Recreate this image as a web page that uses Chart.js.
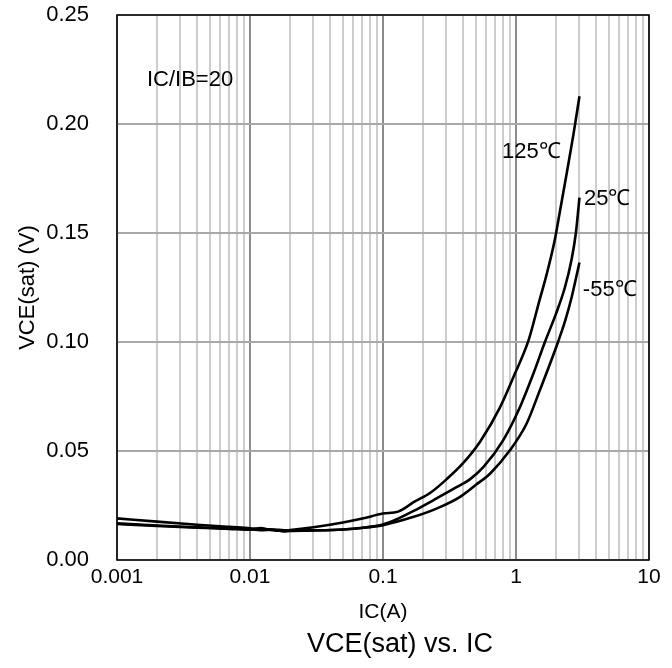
<!DOCTYPE html>
<html>
<head>
<meta charset="utf-8">
<script src="https://cdn.jsdelivr.net/npm/chart.js@4.4.0/dist/chart.umd.min.js"></script>
<style>
  html, body { margin: 0; padding: 0; background: #fff; }
</style>
</head>
<body>
<canvas id="vceChart" width="672" height="668"></canvas>
<script>
// collector current (A) and VCE(sat) (V) per temperature
const ic125 = [0.001, 0.002, 0.004, 0.007, 0.01, 0.012, 0.014, 0.017, 0.02, 0.03, 0.05, 0.07, 0.1, 0.13, 0.17, 0.23, 0.3, 0.4, 0.54, 0.76, 0.98, 1.24, 1.5, 1.7, 1.96, 2.14, 2.4, 2.7, 3.0];
const v125  = [0.0165, 0.0156, 0.0148, 0.0143, 0.0139, 0.0146, 0.0139, 0.0134, 0.0137, 0.0150, 0.0172, 0.0190, 0.0213, 0.0222, 0.0265, 0.0311, 0.0370, 0.0444, 0.0545, 0.0701, 0.0854, 0.1006, 0.119, 0.131, 0.147, 0.160, 0.177, 0.195, 0.2127];

const ic25 = [0.001, 0.002, 0.004, 0.007, 0.01, 0.012, 0.015, 0.018, 0.02, 0.03, 0.05, 0.07, 0.1, 0.13, 0.17, 0.24, 0.36, 0.45, 0.57, 0.8, 1.07, 1.35, 1.65, 2.0, 2.33, 2.62, 2.82, 3.0];
const v25  = [0.0168, 0.0158, 0.0150, 0.0144, 0.0141, 0.0137, 0.0139, 0.0131, 0.0133, 0.0135, 0.0140, 0.0148, 0.0163, 0.0190, 0.0225, 0.0275, 0.0335, 0.0370, 0.0427, 0.0549, 0.0701, 0.0854, 0.100, 0.113, 0.125, 0.138, 0.150, 0.1662];

const icM55 = [0.001, 0.002, 0.004, 0.007, 0.01, 0.012, 0.015, 0.018, 0.02, 0.03, 0.05, 0.07, 0.1, 0.17, 0.255, 0.38, 0.5, 0.64, 0.9, 1.2, 1.51, 2.07, 2.35, 2.62, 3.0];
const vM55  = [0.0191, 0.0176, 0.0162, 0.0152, 0.0146, 0.0142, 0.0140, 0.0136, 0.0135, 0.0136, 0.0140, 0.0147, 0.0160, 0.0198, 0.0237, 0.0290, 0.0345, 0.0397, 0.0503, 0.0625, 0.0778, 0.100, 0.110, 0.1205, 0.1365];

// axis ticks
const xTickValues = [0.001, 0.01, 0.1, 1, 10];
const xTickLabels = ['0.001', '0.01', '0.1', '1', '10'];
const yTickStep = 0.05;

// text notes inside the plot (data coordinates)
const notes = [
    { text: 'IC/IB=20', ic: 0.00168, v: 0.220 },
    { text: '125\u2103', ic: 0.785, v: 0.187 },
    { text: '25\u2103', ic: 3.24, v: 0.1656 },
    { text: '-55\u2103', ic: 3.18, v: 0.124 }
];
const chartTitle = 'VCE(sat) vs. IC';

const FONT = '"Liberation Sans", Arial, sans-serif';

// minor grid: 1..9 in every decade
const xGridValues = [];
for (let e = -3; e <= 1; e++) {
    for (let m = 1; m <= 9; m++) {
        const v = Number((m * Math.pow(10, e)).toPrecision(6));
        if (v <= 10) xGridValues.push(v);
    }
}
function isDecade(v) {
    return xTickValues.some(d => Math.abs(v - d) / d < 1e-6);
}
function toPoints(xs, ys) {
    return xs.map((x, i) => ({ x: x, y: ys[i] }));
}

// frame round the plot, notes, and the caption under the axis title
const frameAndNotes = {
    id: 'frameAndNotes',
    afterDatasetsDraw(chart) {
        const { ctx, chartArea: a, scales: { x, y } } = chart;
        ctx.save();
        ctx.strokeStyle = '#000';
        ctx.lineWidth = 1.5;
        ctx.strokeRect(a.left, a.top, a.right - a.left, a.bottom - a.top);
        ctx.fillStyle = '#000';
        ctx.font = '22px ' + FONT;
        ctx.textAlign = 'left';
        ctx.textBaseline = 'middle';
        notes.forEach(n => ctx.fillText(n.text, x.getPixelForValue(n.ic), y.getPixelForValue(n.v)));
        ctx.font = '27px ' + FONT;
        ctx.textAlign = 'center';
        ctx.fillText(chartTitle, 400, chart.height - 23);
        ctx.restore();
    }
};

Chart.defaults.color = '#000';
Chart.defaults.font.family = FONT;

const lineStyle = {
    showLine: true,
    borderColor: '#000',
    backgroundColor: '#000',
    borderWidth: 2.6,
    pointRadius: 0,
    cubicInterpolationMode: 'monotone',
    fill: false
};

new Chart(document.getElementById('vceChart'), {
    type: 'scatter',
    data: {
        datasets: [
            Object.assign({ label: '125\u2103', data: toPoints(ic125, v125) }, lineStyle),
            Object.assign({ label: '25\u2103', data: toPoints(ic25, v25) }, lineStyle),
            Object.assign({ label: '-55\u2103', data: toPoints(icM55, vM55) }, lineStyle)
        ]
    },
    options: {
        responsive: false,
        devicePixelRatio: 1,
        animation: false,
        layout: { padding: { top: 15, right: 23, left: 0, bottom: 42 } },
        scales: {
            x: {
                type: 'logarithmic',
                min: 0.001,
                max: 10,
                afterBuildTicks: scale => {
                    scale.ticks = xGridValues.map(v => ({ value: v, major: isDecade(v) }));
                },
                afterFit: scale => { scale.height = 66; },
                ticks: {
                    autoSkip: false,
                    maxRotation: 0,
                    padding: 5,
                    font: { size: 21 },
                    callback: value => {
                        const i = xTickValues.findIndex(d => Math.abs(value - d) / d < 1e-6);
                        return i >= 0 ? xTickLabels[i] : '';
                    }
                },
                grid: {
                    drawTicks: false,
                    lineWidth: 2,
                    color: ctx => (ctx.tick && isDecade(ctx.tick.value)) ? '#8c8c8c' : '#cdcdcd'
                },
                border: { display: false },
                title: {
                    display: true,
                    text: 'IC(A)',
                    font: { size: 21 },
                    padding: { top: 0, bottom: 1 }
                }
            },
            y: {
                min: 0,
                max: 0.25,
                afterFit: scale => {
                    scale.width = 117;
                    scale.paddingTop = 10;
                    scale.paddingBottom = 10;
                },
                ticks: {
                    stepSize: yTickStep,
                    padding: 28,
                    font: { size: 22 },
                    callback: value => value.toFixed(2)
                },
                grid: {
                    drawTicks: false,
                    lineWidth: 2,
                    color: '#a8a8a8'
                },
                border: { display: false },
                title: {
                    display: true,
                    text: 'VCE(sat) (V)',
                    font: { size: 22 },
                    padding: { top: 15, bottom: 0 }
                }
            }
        },
        plugins: {
            legend: { display: false },
            tooltip: { enabled: false },
            title: { display: false }
        }
    },
    plugins: [frameAndNotes]
});
</script>
</body>
</html>
